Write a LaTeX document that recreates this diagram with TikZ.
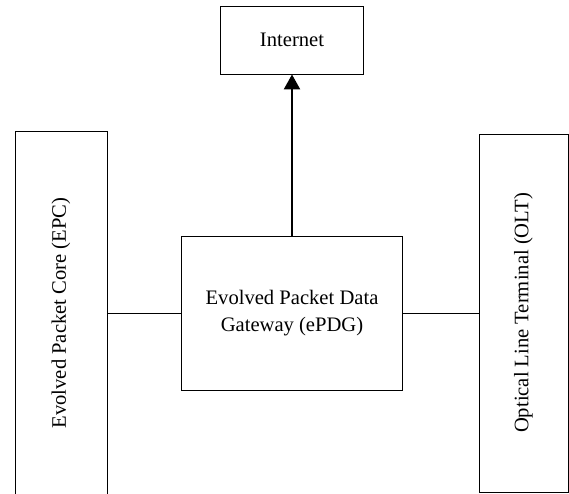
\documentclass[tikz,border=0pt]{standalone}
\usepackage{fontspec}
\setmainfont{Liberation Serif}
\usetikzlibrary{arrows.meta}
\begin{document}
\begin{tikzpicture}[x=1pt,y=1pt,
    box/.style={draw,line width=0.9pt,inner sep=0pt,align=center,
      font=\fontsize{20.6}{27.5}\selectfont},
    link/.style={line width=0.9pt},
    uplink/.style={line width=2.4pt,-{Triangle[width=16pt,length=15pt]}}]
  \useasboundingbox (0,0) rectangle (569,493);
  \draw
    (292,453) node[box,minimum width=143,minimum height=68] (internet){Internet}
    (292,180) node[box,minimum width=221,minimum height=154] (epdg){Evolved Packet Data\\Gateway (ePDG)}
    (61,180) node[box,minimum width=363,minimum height=92,rotate=90] (epc){Evolved Packet Core (EPC)}
    (523.5,180) node[box,minimum width=358,minimum height=89,rotate=90] (olt){Optical Line Terminal (OLT)};
  \begin{scope}[link]
    \draw (epc) to (epdg);
    \draw (epdg) to (olt);
  \end{scope}
  \draw[uplink] (epdg) to (internet);
\end{tikzpicture}
\end{document}
